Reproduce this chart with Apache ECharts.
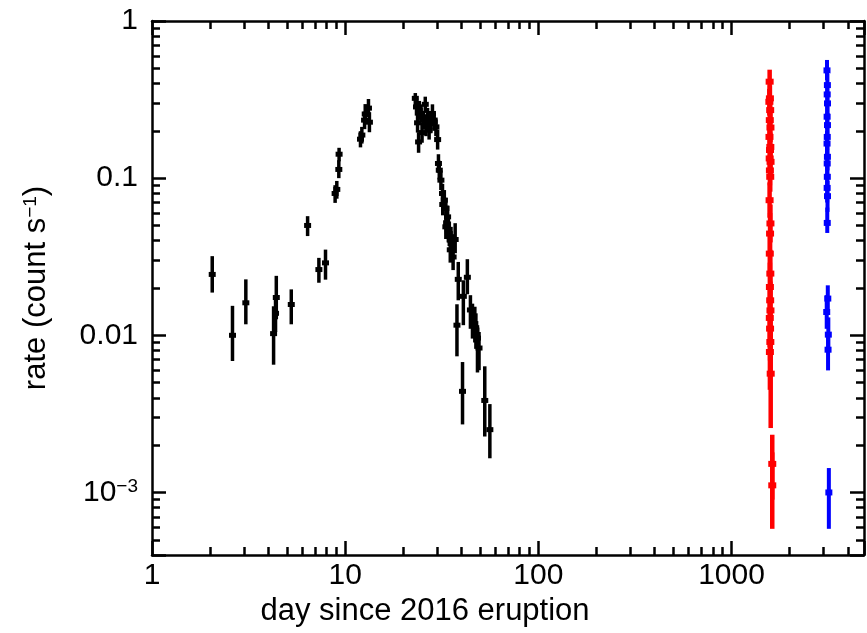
<!DOCTYPE html>
<html><head><meta charset="utf-8">
<script src="https://cdn.jsdelivr.net/npm/echarts@6/dist/echarts.min.js"></script>
<style>html,body{margin:0;padding:0;background:#fff}#c{width:867px;height:633px}</style>
</head><body><div id="c"></div>
<script>
// ---- data (day since eruption, rate, lower, upper) ----
const blackDay  = [2.05,2.61,3.06,4.26,4.36,4.40,5.26,6.39,7.31,7.91,8.87,9.05,9.27,9.30,
  12.0,12.2,12.6,12.7,13.2,13.35,
  23.07,23.4,23.7,23.99,24.2,24.7,25.0,25.4,25.98,26.2,26.7,27.2,27.7,28.3,28.9,29.5,30.1,
  30.4,30.7,31.3,31.9,32.0,32.6,33.2,33.2,33.5,33.9,34.2,34.6,35.0,35.3,35.9,36.2,37.1,38.5,37.9,40.9,42.9,40.5,
  44.5,45.6,46.9,47.5,48.4,49.3,52.8,56.1];
const blackRate = [0.0244,0.0100,0.0161,0.01025,0.0138,0.0174,0.0157,0.0500,0.0262,0.0289,0.0799,0.0848,0.1136,0.142,
  0.177,0.188,0.234,0.256,0.279,0.227,
  0.322,0.284,0.225,0.170,0.270,0.258,0.195,0.234,0.295,0.212,0.246,0.202,0.222,0.258,0.228,0.212,0.176,
  0.124,0.1124,0.0971,0.0799,0.068,0.0724,0.0641,0.0490,0.052,0.0567,0.047,0.0444,0.035,0.0403,0.0365,0.0315,0.0407,0.0227,0.0116,0.0177,0.0234,0.0044,
  0.0145,0.01278,0.01187,0.0108,0.0096,0.0083,0.00385,0.00251];
const blackLo   = [0.0187,0.00686,0.01175,0.0065,0.0105,0.01265,0.01175,0.0428,0.0216,0.0226,0.0696,0.074,0.100,0.128,
  0.157,0.166,0.205,0.221,0.245,0.196,
  0.283,0.25,0.195,0.145,0.235,0.225,0.168,0.205,0.26,0.185,0.215,0.176,0.193,0.225,0.2,0.185,0.152,
  0.108,0.098,0.084,0.069,0.058,0.062,0.055,0.041,0.044,0.048,0.039,0.037,0.029,0.033,0.030,0.026,0.0333,0.0167,0.00735,0.0116,0.01825,0.00271,
  0.011,0.00953,0.0090,0.0082,0.0058,0.0060,0.00227,0.00165];
const blackHi   = [0.0319,0.0154,0.0227,0.0153,0.0180,0.0239,0.0196,0.0573,0.0311,0.0351,0.0902,0.096,0.130,0.156,
  0.199,0.212,0.265,0.296,0.319,0.263,
  0.348,0.322,0.26,0.196,0.31,0.295,0.225,0.268,0.33,0.243,0.28,0.232,0.255,0.295,0.26,0.243,0.204,
  0.142,0.129,0.112,0.092,0.079,0.084,0.075,0.058,0.061,0.067,0.056,0.053,0.042,0.049,0.044,0.038,0.0517,0.0293,0.01576,0.0224,0.0305,0.00676,
  0.018,0.0159,0.0152,0.0138,0.0116,0.0105,0.00635,0.00365];

const redDay  = [1575,1580,1570,1585,1578,1590,1572,1588,1582,1576,1592,1580,1586,1574,1590,1583,1578,1588,1580,1585,1590,1578,1583,1588,1580,1595,1625,1625];
const redRate = [0.411,0.322,0.306,0.271,0.234,0.210,0.183,0.158,0.151,0.1335,0.127,0.112,0.102,0.0724,0.0515,0.0444,0.0331,0.0247,0.0203,0.0167,0.0144,0.0129,0.01103,0.00907,0.00783,0.0057,0.00152,0.00111];
const redLo   = [0.34,0.27,0.25,0.22,0.19,0.17,0.15,0.128,0.122,0.108,0.102,0.09,0.082,0.056,0.039,0.033,0.024,0.0175,0.014,0.0113,0.0095,0.0084,0.0069,0.0055,0.0045,0.00257,0.0009,0.000587];
const redHi   = [0.49,0.39,0.37,0.33,0.29,0.26,0.225,0.195,0.186,0.165,0.158,0.14,0.128,0.094,0.068,0.06,0.046,0.035,0.029,0.0245,0.022,0.02,0.0175,0.015,0.0135,0.0105,0.00233,0.0018];

const blueDay  = [3120,3135,3128,3140,3125,3138,3130,3122,3136,3128,3132,3126,3140,3130,3150,3110,3170,3160,3190];
const blueRate = [0.485,0.391,0.341,0.299,0.246,0.2176,0.183,0.166,0.1367,0.124,0.102,0.0867,0.0768,0.0519,0.01713,0.01407,0.0101,0.0081,0.001];
const blueLo   = [0.42,0.33,0.29,0.25,0.205,0.18,0.152,0.137,0.112,0.1,0.083,0.07,0.061,0.0448,0.0135,0.011,0.0078,0.00598,0.000587];
const blueHi   = [0.565,0.46,0.40,0.355,0.295,0.26,0.22,0.2,0.166,0.153,0.126,0.107,0.096,0.065,0.0208,0.018,0.013,0.0105,0.00143];

const xTickValues = [1,10,100,1000];
const xTickLabels = ['1','10','100','1000'];
const yTickValues = [0.001,0.01,0.1,1];
const yTickLabels = ['10{sup|\u22123}','0.01','0.1','1'];

function rows(x,y,lo,hi){ return x.map((v,i)=>[v,y[i],lo[i],hi[i]]); }
function errRender(lw, mw, mh){
  return function(params, api){
    const x = api.value(0), y = api.value(1), lo = api.value(2), hi = api.value(3);
    const pLo = api.coord([x, lo]), pHi = api.coord([x, hi]), p = api.coord([x, y]);
    const color = api.visual('color');
    return {type:'group', children:[
      {type:'line', shape:{x1:pLo[0], y1:pLo[1], x2:pHi[0], y2:pHi[1]}, style:{stroke:color, lineWidth:lw}},
      {type:'rect', shape:{x:p[0]-mw/2, y:p[1]-mh/2, width:mw, height:mh}, style:{fill:color}}
    ]};
  };
}
function near(v, arr){ for (let i=0;i<arr.length;i++){ if (Math.abs(v-arr[i])/arr[i] < 1e-6) return i; } return -1; }

const FONT = 'Liberation Sans';
const lineStyle = {color:'#000', width:2.5};
function axisCommon(extra){
  return Object.assign({
    type:'log', logBase:10,
    axisLine:{show:true, onZero:false, lineStyle:lineStyle},
    axisTick:{show:true, inside:true, length:14, lineStyle:lineStyle},
    minorTick:{show:true, splitNumber:9, length:8, lineStyle:lineStyle},
    splitLine:{show:false}, minorSplitLine:{show:false}
  }, extra);
}

const chart = echarts.init(document.getElementById('c'), null, {renderer:'canvas'});
chart.setOption({
  animation:false,
  backgroundColor:'#fff',
  grid:{left:152, right:1, top:21, bottom:78, containLabel:false},
  xAxis:[
    axisCommon({min:1, max:4850, position:'bottom',
      axisLabel:{show:true, fontSize:30, color:'#000', fontFamily:FONT, margin:6,
        formatter:function(v){ const i = near(v, xTickValues); return i<0 ? '' : xTickLabels[i]; }},
      name:'day since 2016 eruption', nameLocation:'middle', nameGap:33,
      nameTextStyle:{fontSize:31, color:'#000', fontFamily:FONT, padding:[0,166,0,0]}}),
    axisCommon({min:1, max:4850, position:'top', axisLabel:{show:false}})
  ],
  yAxis:[
    axisCommon({min:0.0004, max:1, position:'left',
      axisLabel:{show:true, fontSize:30, color:'#000', fontFamily:FONT, margin:14,
        formatter:function(v){ const i = near(v, yTickValues); return i<0 ? '' : yTickLabels[i]; },
        rich:{sup:{fontSize:19, fontFamily:FONT, color:'#000', verticalAlign:'top', lineHeight:18}}},
      name:'rate (count s{sup|\u22121})', nameLocation:'middle', nameGap:100,
      nameTextStyle:{fontSize:31, color:'#000', fontFamily:FONT,
        rich:{sup:{fontSize:19, fontFamily:FONT, color:'#000', verticalAlign:'top', lineHeight:18}}}}),
    axisCommon({min:0.0004, max:1, position:'right', axisLabel:{show:false}})
  ],
  series:[
    {type:'custom', name:'early', xAxisIndex:0, yAxisIndex:0, itemStyle:{color:'#000'},
      renderItem:errRender(3.5, 7, 5), encode:{x:0, y:1}, data:rows(blackDay,blackRate,blackLo,blackHi)},
    {type:'custom', name:'late1', xAxisIndex:0, yAxisIndex:0, itemStyle:{color:'#ff0000'},
      renderItem:errRender(4.5, 8, 6), encode:{x:0, y:1}, data:rows(redDay,redRate,redLo,redHi)},
    {type:'custom', name:'late2', xAxisIndex:0, yAxisIndex:0, itemStyle:{color:'#0000ff'},
      renderItem:errRender(4, 7, 6), encode:{x:0, y:1}, data:rows(blueDay,blueRate,blueLo,blueHi)}
  ]
});
</script></body></html>
